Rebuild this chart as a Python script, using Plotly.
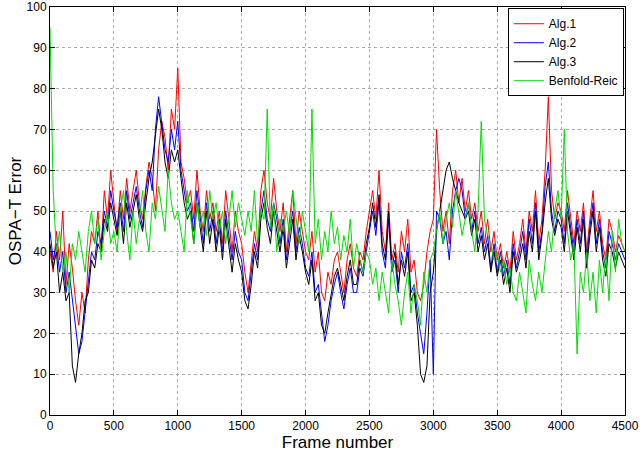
import plotly.graph_objects as go

frames = list(range(0, 4501, 25))
alg1 = [40,35,45,38,50,32,42,36,28,22,30,25,38,45,42,50,40,55,48,60,
52,45,55,48,58,50,55,60,52,48,56,62,58,50,65,72,68,60,75,70,
85,62,58,52,55,48,60,50,45,55,48,52,45,50,42,55,48,40,50,45,
42,35,30,38,45,40,55,60,52,48,58,50,45,52,40,48,55,42,50,45,
40,38,45,35,40,30,28,35,32,38,40,35,30,38,42,36,34,40,38,45,
50,55,48,60,45,40,52,38,42,35,45,40,48,35,38,30,28,32,40,45,
48,70,55,45,50,42,55,60,52,58,50,55,48,52,45,50,42,48,40,45,
38,42,36,40,35,45,38,42,48,40,50,45,55,42,48,60,78,55,48,52,
50,45,55,48,42,50,45,52,40,48,55,45,50,42,38,48,45,40,44,42,40]
alg2 = [45,38,42,35,40,30,35,28,22,15,18,25,32,40,38,45,42,50,46,55,
50,46,52,45,55,48,52,56,50,46,55,60,55,70,78,72,65,62,70,65,
72,60,55,50,52,45,55,48,42,52,45,50,42,48,40,50,44,38,45,40,
38,30,28,35,42,38,50,55,48,45,52,48,42,48,38,45,50,40,46,42,
36,34,40,30,32,25,18,22,28,32,35,30,26,32,36,30,30,36,34,40,
45,50,44,52,40,36,48,35,38,30,40,36,42,30,32,25,20,15,25,38,
10,50,48,42,45,38,50,55,58,55,48,52,45,50,42,46,40,44,36,42,
35,40,34,38,32,42,36,40,45,38,48,42,52,40,45,56,62,50,45,50,
48,42,52,46,40,48,42,50,38,46,52,42,48,40,36,45,42,38,42,40,38]
alg3 = [42,36,40,30,35,28,30,12,8,15,20,28,30,38,36,42,40,48,45,52,
48,44,50,42,52,46,50,54,48,45,52,58,62,68,75,70,62,58,65,62,
65,58,52,48,50,42,52,46,40,50,42,48,40,46,38,48,42,35,42,38,
35,28,26,32,40,36,48,52,46,42,50,45,40,46,36,42,48,38,44,40,
35,32,38,28,30,22,20,25,30,34,36,32,28,34,38,32,32,38,35,42,
46,52,46,54,42,38,50,36,40,32,38,34,40,28,30,22,10,8,12,30,
35,45,50,55,60,62,58,55,52,50,48,50,44,48,40,44,38,42,35,40,
34,38,32,36,30,40,35,38,42,36,45,40,50,38,44,52,58,48,44,48,
46,40,50,44,38,46,40,48,36,44,50,40,46,38,34,42,40,36,40,38,36]
benfold = [95,55,40,45,35,40,30,42,38,45,40,35,45,50,42,48,38,45,50,42,
45,40,50,55,45,38,50,42,48,55,45,40,52,48,56,50,45,60,52,48,
50,45,40,55,48,42,52,46,50,44,55,48,52,45,50,42,48,55,46,52,
48,44,50,45,55,42,50,48,75,46,52,40,48,45,50,44,55,48,42,50,
45,40,75,42,48,38,45,40,50,42,46,38,44,40,48,36,42,38,35,40,
38,32,36,28,35,30,25,38,32,28,22,30,35,25,32,28,22,35,30,38,
40,45,50,42,48,52,46,55,50,44,48,52,45,40,50,72,48,44,42,38,
40,35,38,32,36,30,28,35,30,25,38,32,28,35,30,38,45,40,50,55,
48,70,45,38,42,15,35,30,40,28,35,25,38,30,40,28,45,35,48,42,40]

series = [("Alg.1", alg1, "#ff0000"), ("Alg.2", alg2, "#0000ff"),
          ("Alg.3", alg3, "#000000"), ("Benfold-Reic", benfold, "#00dd00")]

fig = go.Figure()
for name, ys, c in series:
    fig.add_trace(go.Scatter(x=frames, y=ys, name=name, mode="lines",
                             line=dict(color=c, width=1)))

ax = dict(showline=True, linecolor="black", linewidth=1, mirror="ticks",
          ticks="inside", ticklen=5, tickcolor="black", showgrid=True,
          gridcolor="#aaaaaa", griddash="dot", gridwidth=1, zeroline=False,
          automargin=False, tickfont=dict(size=12, color="black"))
fig.update_xaxes(ax, range=[0, 4500], tickvals=list(range(0, 4501, 500)),
                 title=dict(text="Frame number", font=dict(size=17, color="black"), standoff=0))
fig.update_yaxes(ax, range=[0, 100], tickvals=list(range(0, 101, 10)),
                 title=dict(text="OSPA−T Error", font=dict(size=17, color="black"), standoff=0))
fig.update_layout(width=640, height=457, margin=dict(l=50, r=15, t=7, b=42),
                  plot_bgcolor="white", paper_bgcolor="white",
                  font=dict(family="Liberation Sans", color="black"),
                  legend=dict(x=0.998, y=0.997, xanchor="right", yanchor="top",
                              bgcolor="white", bordercolor="black", borderwidth=1,
                              font=dict(size=12), tracegroupgap=0))
fig.write_html("out.html", config={"displayModeBar": False})

with open("out.html", encoding="utf-8") as f:
    html = f.read()
html = html.replace("<head>", "<head><style>html,body{margin:0;padding:0;overflow:hidden;}</style>", 1)
with open("out.html", "w", encoding="utf-8") as f:
    f.write(html)
